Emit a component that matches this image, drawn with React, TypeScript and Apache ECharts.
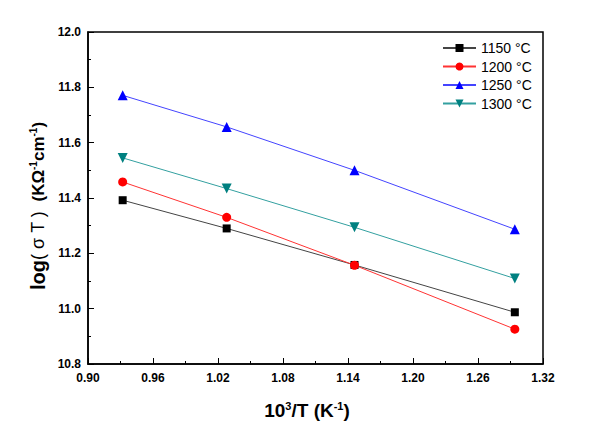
import React, { useEffect, useRef } from "react";
import * as echarts from "echarts";

const xValues = [0.932, 1.028, 1.146, 1.294];
const seriesNames = ["1150 °C", "1200 °C", "1250 °C", "1300 °C"];
const s1150 = [11.392, 11.29, 11.158, 10.987];
const s1200 = [11.458, 11.33, 11.157, 10.926];
const s1250 = [11.771, 11.657, 11.5, 11.287];
const s1300 = [11.545, 11.434, 11.294, 11.109];

const markerColors = ["#000000", "#ff0000", "#0000ff", "#008080"];
const lineColors = ["#444444", "#ff3333", "#4444ff", "#33a0a0"];
const symbols = ["rect", "circle", "triangle", "triangle"];
const symbolRotates = [0, 0, 0, 180];
const symbolSizes = [8, 9, 10, 10];

export default function App() {
  const ref = useRef<HTMLDivElement>(null);
  useEffect(() => {
    if (!ref.current) return;
    const chart = echarts.init(ref.current, undefined, { renderer: "svg" });
    const all = [s1150, s1200, s1250, s1300];
    const font = "Liberation Sans, Arial, sans-serif";
    chart.setOption({
      animation: false,
      backgroundColor: "#ffffff",
      grid: {
        left: 88,
        top: 32,
        right: 57,
        bottom: 65,
        show: true,
        borderColor: "#000",
        borderWidth: 1.5,
      },
      legend: {
        orient: "vertical",
        left: 437,
        top: 36,
        itemWidth: 33,
        itemHeight: 10,
        itemGap: 4.5,
        textStyle: { fontSize: 14, color: "#000", fontFamily: font },
        data: seriesNames,
      },
      xAxis: {
        type: "value",
        min: 0.9,
        max: 1.32,
        interval: 0.06,
        axisLine: { show: true, lineStyle: { color: "#000", width: 1.5 } },
        axisTick: { show: true, inside: true, length: 6, lineStyle: { color: "#000", width: 1 } },
        minorTick: { show: true, splitNumber: 2, length: 3, lineStyle: { color: "#000", width: 1 } },
        splitLine: { show: false },
        axisLabel: {
          color: "#000",
          fontWeight: "bold",
          fontSize: 12,
          fontFamily: font,
          margin: 8,
          formatter: (v: number) => v.toFixed(2),
        },
      },
      yAxis: {
        type: "value",
        min: 10.8,
        max: 12.0,
        interval: 0.2,
        axisLine: { show: true, lineStyle: { color: "#000", width: 1.5 } },
        axisTick: { show: true, inside: true, length: 6, lineStyle: { color: "#000", width: 1 } },
        minorTick: { show: true, splitNumber: 2, length: 3, lineStyle: { color: "#000", width: 1 } },
        splitLine: { show: false },
        axisLabel: {
          color: "#000",
          fontWeight: "bold",
          fontSize: 12,
          fontFamily: font,
          margin: 7,
          formatter: (v: number) => v.toFixed(1),
        },
      },
      graphic: [
        {
          type: "text",
          x: 38,
          y: 206,
          rotation: Math.PI / 2,
          style: {
            text: "{b|log}{n|( σ T )}{m|  (KΩ}{s|-1}{m|cm}{s|-1}{m|)}",
            align: "center",
            verticalAlign: "middle",
            fill: "#000",
            rich: {
              b: { fontSize: 20, fontWeight: "bold", fontFamily: font, fill: "#000" },
              n: { fontSize: 18, fontWeight: "normal", fontFamily: font, fill: "#000" },
              m: { fontSize: 17, fontWeight: "bold", fontFamily: font, fill: "#000" },
              s: { fontSize: 10, fontWeight: "bold", fontFamily: font, fill: "#000", verticalAlign: "top", padding: [0, 0, 9, 0] },
            },
          },
        },
        {
          type: "text",
          x: 307,
          y: 410,
          style: {
            text: "{m|10}{s|3}{m|/T (K}{s|-1}{m|)}",
            align: "center",
            verticalAlign: "middle",
            fill: "#000",
            rich: {
              m: { fontSize: 19, fontWeight: "bold", fontFamily: font, fill: "#000" },
              s: { fontSize: 11, fontWeight: "bold", fontFamily: font, fill: "#000", verticalAlign: "top", padding: [0, 0, 9, 0] },
            },
          },
        },
      ],
      series: all.map((vals, i) => ({
        name: seriesNames[i],
        type: "line",
        data: vals.map((v, j) => [xValues[j], v]),
        symbol: symbols[i],
        symbolSize: symbolSizes[i],
        symbolRotate: symbolRotates[i],
        showAllSymbol: true,
        itemStyle: { color: markerColors[i] },
        lineStyle: { color: lineColors[i], width: 1 },
      })),
    });
    return () => chart.dispose();
  }, []);
  return <div ref={ref} style={{ width: 600, height: 429, position: "absolute", left: 0, top: 0 }} />;
}
